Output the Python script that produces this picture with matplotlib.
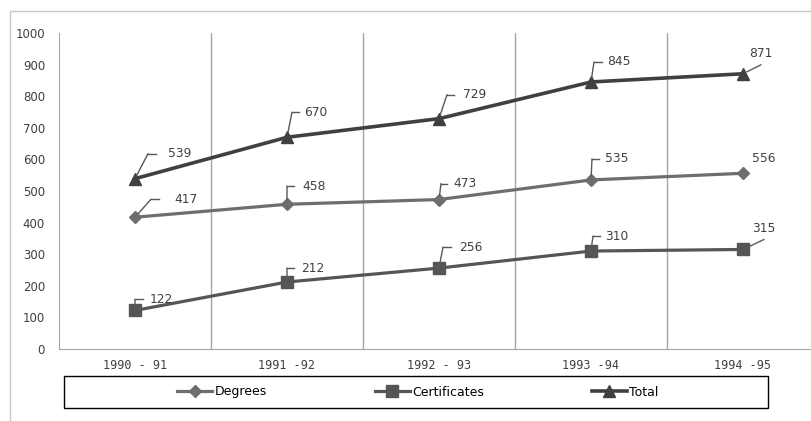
import matplotlib.pyplot as plt
from matplotlib.patches import Rectangle
from matplotlib.lines import Line2D

years = ['1990 - 91', '1991 -92', '1992 - 93', '1993 -94', '1994 -95']
degrees = [417, 458, 473, 535, 556]
certificates = [122, 212, 256, 310, 315]
total = [539, 670, 729, 845, 871]

# leader offsets in pixels: (elbow dx, elbow dy, tail dx, label dx, label dy, ha)
deg_lead = [(16, 18, 24, 39, 18, 'left'), (0, 18, 7, 15, 18, 'left'),
            (2, 16, 8, 14, 16, 'left'), (1, 21, 8, 14, 21, 'left'),
            (None, None, None, 21, 15, 'center')]
cert_lead = [(0, 11, 8, 15, 11, 'left'), (0, 14, 7, 14, 14, 'left'),
             (4, 21, 12, 20, 21, 'left'), (2, 15, 9, 14, 15, 'left'),
             (21, 10, None, 21, 21, 'center')]
tot_lead = [(13, 25, 21, 33, 25, 'left'), (5, 25, 12, 17, 25, 'left'),
            (8, 24, 15, 24, 24, 'left'), (3, 20, 11, 16, 20, 'left'),
            (18, 9, None, 18, 20, 'center')]

W, H = 812, 421
fig = plt.figure(figsize=(W / 100, H / 100), dpi=100)
ax = fig.add_axes([59 / W, 72 / H, 760 / W, 316 / H])

x = list(range(len(years)))
c_deg, c_cert, c_tot = '#6e6e6e', '#555555', '#404040'
ax.plot(x, degrees, color=c_deg, lw=2.3, marker='D', ms=6, label='Degrees')
ax.plot(x, certificates, color=c_cert, lw=2.3, marker='s', ms=8.5, label='Certificates')
ax.plot(x, total, color=c_tot, lw=2.6, marker='^', ms=9, label='Total')

ax.set_xlim(-0.5, len(years) - 0.5)
ax.set_ylim(0, 1000)
ax.set_yticks(range(0, 1001, 100))
ax.set_xticks(x)
ax.set_xticklabels(years, family='DejaVu Sans Mono', fontsize=8.5, color='#404040')
ax.tick_params(axis='y', length=0, pad=10, labelsize=8.5, labelcolor='#404040')
ax.tick_params(axis='x', length=0, pad=7)

for b in range(len(years)):
    ax.axvline(b + 0.5, color='#a6a6a6', lw=1, zorder=0)
for s in ['top', 'right']:
    ax.spines[s].set_visible(False)
ax.spines['left'].set_color('#a6a6a6')
ax.spines['bottom'].set_color('#a6a6a6')

# data labels with leader lines
tails = []
for vals, spec in [(degrees, deg_lead), (certificates, cert_lead), (total, tot_lead)]:
    for i, v in enumerate(vals):
        ex, ey, tx, lx, ly, ha = spec[i]
        if ex is not None:
            ax.annotate('', xy=(i, v), xytext=(ex, ey), textcoords='offset pixels',
                        arrowprops=dict(arrowstyle='-', color='#595959', lw=1,
                                        shrinkA=0, shrinkB=3))
        if tx is not None:
            tails.append((i, v, ex, ey, tx))
        ax.annotate(str(v), xy=(i, v), xytext=(lx, ly), textcoords='offset pixels',
                    ha=ha, va='center', fontsize=8.8, color='#404040')

# short horizontal tails on the leaders, placed in pixel space once limits are fixed
fig.canvas.draw()
inv = fig.transFigure.inverted()
for i, v, ex, ey, tx in tails:
    px, py = ax.transData.transform((i, v))
    p0 = inv.transform((px + ex, py + ey))
    p1 = inv.transform((px + tx, py + ey))
    fig.add_artist(Line2D([p0[0], p1[0]], [p0[1], p1[1]], color='#595959', lw=1,
                          transform=fig.transFigure))

# legend inside a framed box under the axis
handles, labels = ax.get_legend_handles_labels()
fig.legend(handles, labels, loc='center', bbox_to_anchor=(418 / W, 1 - 392 / H),
           ncol=3, frameon=False, fontsize=9, handlelength=2.8, handletextpad=0.2,
           columnspacing=8.6, labelcolor='#000000')
fig.add_artist(Rectangle((64 / W, 1 - 408 / H), 704 / W, 32 / H, fill=False,
                         ec='#000000', lw=1, transform=fig.transFigure))

# outer chart border
fig.add_artist(Rectangle((10 / W, -0.2), 1.0, 1.2 - 11 / H, fill=False,
                         ec='#c8c8c8', lw=1, transform=fig.transFigure))

fig.savefig('out.png', dpi=100)
